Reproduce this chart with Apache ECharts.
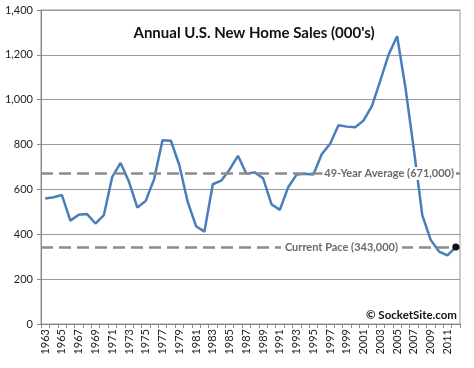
<!DOCTYPE html>
<html><head><meta charset="utf-8">
<script src="https://cdn.jsdelivr.net/npm/echarts@6/dist/echarts.min.js"></script>
<style>html,body{margin:0;padding:0;background:#fff}#c{width:474px;height:368px}</style>
</head><body><div id="c"></div>
<script>
const years = [];
for (let y = 1963; y <= 2012; y++) years.push(String(y));
const sales = [560,565,575,461,487,490,448,485,656,718,634,519,549,646,819,817,709,545,436,412,623,639,688,750,671,676,650,534,509,610,666,670,667,757,804,886,880,877,908,973,1086,1203,1283,1051,776,485,375,323,306,343];
const average = 671;
const currentPace = 343;
const avgLabel = '49-Year Average (671,000)';
const paceLabel = 'Current Pace (343,000)';
const titleText = "Annual U.S. New Home Sales (000's)";
const credit = '© SocketSite.com';

const chart = echarts.init(document.getElementById('c'), null, {renderer:'canvas'});
const FONT = 'Lato';
chart.setOption({
  animation: false,
  title: {text: titleText, left: 249, textAlign: 'center', top: 21,
    textStyle: {fontFamily: FONT, fontSize: 15, fontWeight: 'bold', color: '#111'}},
  grid: {left: 41, right: 14, top: 10, bottom: 44, show: true, borderColor: '#999', borderWidth: 1},
  xAxis: {type: 'category', data: years, boundaryGap: true,
    axisLine: {lineStyle: {color: '#888'}},
    axisTick: {show: true, interval: 0, length: 4, lineStyle: {color: '#888'}},
    axisLabel: {interval: 1, rotate: 90, fontFamily: FONT, fontSize: 11, color: '#222', margin: 5}},
  yAxis: {type: 'value', min: 0, max: 1400, interval: 200,
    axisLine: {show: true, lineStyle: {color: '#888'}},
    axisTick: {show: true, length: 4, lineStyle: {color: '#888'}},
    splitLine: {lineStyle: {color: '#999', width: 1}},
    axisLabel: {fontFamily: FONT, fontSize: 11, color: '#222', margin: 8,
      formatter: v => v.toLocaleString('en-US')}},
  series: [{
    type: 'line', data: sales, symbol: 'none', smooth: false,
    lineStyle: {color: '#4A7EBB', width: 2.5},
    markLine: {silent: true, symbol: 'none',
      lineStyle: {color: '#8c8c8c', type: [12, 6], width: 2.5},
      data: [
        {yAxis: average, label: {show: true, formatter: avgLabel, position: 'insideEnd', distance: [4, 0],
          backgroundColor: '#fff', padding: [1, 2], color: '#6a6a6a', fontFamily: FONT, fontWeight: 'bold', fontSize: 11}},
        {yAxis: currentPace, label: {show: true, formatter: paceLabel, position: 'insideEnd', distance: [58, 0],
          backgroundColor: '#fff', padding: [1, 4], color: '#6a6a6a', fontFamily: FONT, fontWeight: 'bold', fontSize: 11}}
      ]},
    markPoint: {symbol: 'circle', symbolSize: 7, itemStyle: {color: '#111'}, label: {show: false},
      data: [{coord: [years[years.length-1], sales[sales.length-1]]}]}
  }],
  graphic: [{type: 'text', right: 17, top: 309,
    style: {text: credit, font: 'bold 11.5px Lato', fill: '#111'}}]
});
</script></body></html>
